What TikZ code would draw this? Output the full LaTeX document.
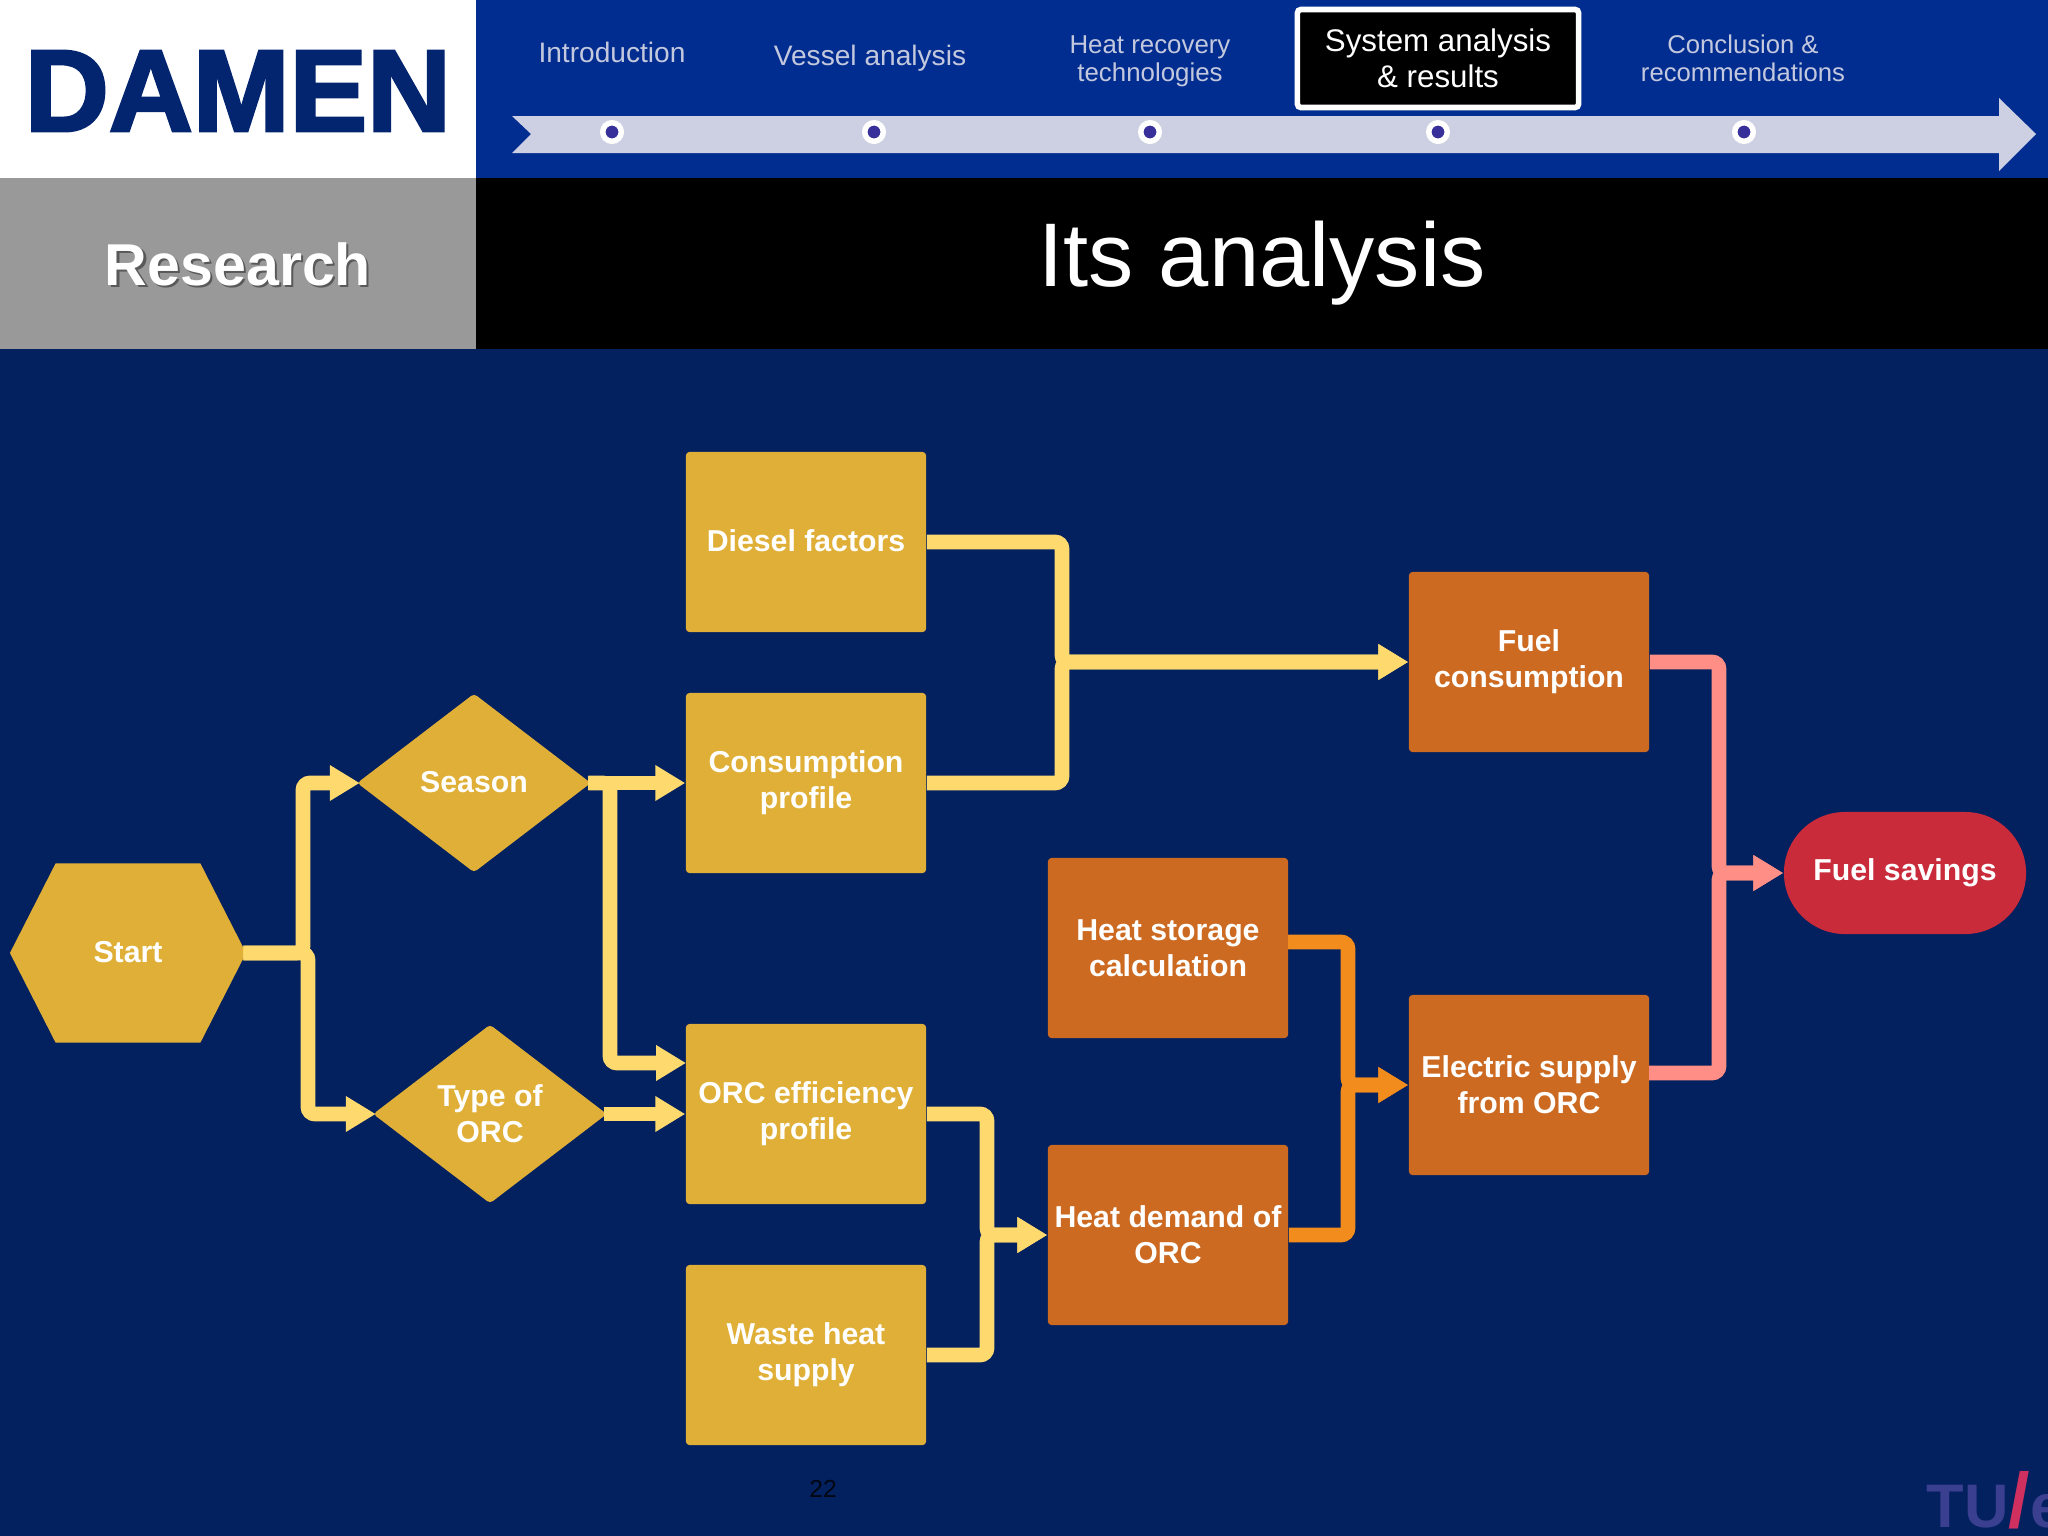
\documentclass[tikz,border=0pt]{standalone}
\usepackage{graphicx}
\usepackage{fontspec}
\setmainfont{Liberation Sans}
\newfontfamily\logofont[FakeBold=2.5]{Liberation Sans Bold}
\usetikzlibrary{arrows.meta,shapes.geometric,shapes.misc,shapes.symbols}
\definecolor{slidebg}{HTML}{03205F}
\definecolor{headblue}{HTML}{002D8F}
\definecolor{logoblue}{HTML}{03246F}
\definecolor{barlilac}{HTML}{CDCFE3}
\definecolor{dotblue}{HTML}{37309B}
\definecolor{navtext}{HTML}{C4C8DE}
\definecolor{gold}{HTML}{E0AF37}
\definecolor{rust}{HTML}{CC6A22}
\definecolor{crimson}{HTML}{C92B3A}
\definecolor{linkyellow}{HTML}{FEDA6E}
\definecolor{linkorange}{HTML}{F28C1C}
\definecolor{linkpink}{HTML}{FF8F86}
\definecolor{tublue}{HTML}{3A3F8F}
\definecolor{tupink}{HTML}{D0305F}
\tikzset{
 flow/.style={text=white,align=center,inner sep=0pt,font=\bfseries\fontsize{8.6}{10.3}\selectfont},
 goldbox/.style={flow,rectangle,fill=gold,rounded corners=1pt,minimum width=2.4cm,minimum height=1.8cm},
 rustbox/.style={goldbox,fill=rust},
 golddiamond/.style={flow,diamond,fill=gold,rounded corners=1pt,aspect=1.3,minimum width=2.34cm,minimum height=1.79cm},
 link/.style={line width=4.2pt,rounded corners=2pt,-{Triangle[length=8.5pt,width=9.6pt]}},
 navitem/.style={text=navtext,align=center,inner sep=0pt},
 navdot/.style={circle,fill=dotblue,draw=white,line width=1.56pt,minimum size=0.185cm,inner sep=0pt}
}
\begin{document}
\begin{tikzpicture}[x=0.01cm,y=-0.01cm]
 \useasboundingbox (0,0) rectangle (2048,1536);
 \fill [slidebg] (0,0) rectangle (2048,1536);
 \fill [headblue] (476,0) rectangle (2048,178);
 \fill [white] (0,0) rectangle (476,178);
 \fill [black!40] (0,178) rectangle (476,349);
 \fill [black] (476,178) rectangle (2048,349);
 \node [text=logoblue,inner sep=0pt] (logo) at (238,91) {\resizebox{4.26cm}{0.8cm}{\logofont DAMEN}};
 \node [text=white,inner sep=0pt,font=\bfseries\fontsize{16.8}{20}\selectfont] (research) at (238,265)
 {\rlap{\kern0.6pt\raisebox{-0.6pt}{\textcolor{black!65}{Research}}}Research};
 \node [text=white,inner sep=0pt,font=\fontsize{25.7}{30}\selectfont] (title) at (1262,263) {Its analysis};

 \fill [barlilac] (512,116) -- (1999,116) -- (1999,98) -- (2036,134) -- (1999,171) -- (1999,153) -- (512,153) -- (531,134) -- cycle;
 \node [navdot] (dota) at (612,132) {};
 \node [navdot] (dotb) at (874,132) {};
 \node [navdot] (dotc) at (1150,132) {};
 \node [navdot] (dotd) at (1438,132) {};
 \node [navdot] (dote) at (1744,132) {};
 \node [navitem,font=\fontsize{8}{9.5}\selectfont] (intro) at (612,52) {Introduction};
 \node [navitem,font=\fontsize{8}{9.5}\selectfont] (vessel) at (870,58.5) {Vessel analysis};
 \node [navitem,font=\fontsize{7.35}{7.8}\selectfont] (recovery) at (1150,61.5) {Heat recovery\\technologies};
 \node [text=white,align=center,inner sep=0pt,fill=black,draw=white,line width=1.6pt,rounded corners=1pt,
 minimum width=2.81cm,minimum height=0.98cm,font=\fontsize{8.9}{10.4}\selectfont] (system) at (1438,58.5) {System analysis\\\& results};
 \node [navitem,font=\fontsize{7.3}{7.8}\selectfont] (conclusion) at (1743,58.5) {Conclusion \&\\recommendations};

 \node [goldbox] (diesel) at (806,542) {\raisebox{0.7pt}{Diesel factors}};
 \node [goldbox] (profile) at (806,783) {Consumption\\profile};
 \node [goldbox] (orceff) at (806,1114) {ORC efficiency\\profile};
 \node [goldbox] (waste) at (806,1355) {Waste heat\\supply};
 \node [rustbox] (storage) at (1168,948) {Heat storage\\calculation};
 \node [rustbox] (demand) at (1168,1235) {Heat demand of\\ORC};
 \node [rustbox] (fuel) at (1529,662) {Fuel\\consumption};
 \node [rustbox] (electric) at (1529,1085) {Electric supply\\from ORC};
 \node [flow,rounded rectangle,fill=crimson,minimum width=2.42cm,minimum height=1.22cm] (savings) at (1905,873) {\raisebox{0.4pt}{Fuel savings}};
 \node [flow,signal,signal to=east and west,signal pointer angle=126,fill=gold,minimum width=2.36cm,minimum height=1.79cm] (start) at (128,953) {\raisebox{0.7pt}{Start}};
 \node [golddiamond] (season) at (474,783) {\raisebox{0.7pt}{Season}};
 \node [golddiamond] (type) at (490,1114) {Type of\\ORC};

 \coordinate (startup) at (303,783);
 \coordinate (startdown) at (308,1114);
 \coordinate (seasonbus) at (610,1063);
 \coordinate (orcin) at (686,1063);
 \coordinate (fuelbus) at (1062,662);
 \coordinate (demandbus) at (987,1235);
 \coordinate (electricbus) at (1348,1085);
 \coordinate (savingsbus) at (1719,873);
 \coordinate (electricout) at (1649,1073);
 \coordinate (storageout) at (1288,942);

 \draw [link,linkyellow] ([xshift=-1pt]start.east) -| (startup) -- ([xshift=1pt]season.west);
 \draw [link,linkyellow] ([xshift=-1pt]start.east) -| (startdown) -- ([xshift=1pt]type.west);
 \draw [link,linkyellow] ([xshift=-1pt]season.east) -- (profile.west);
 \draw [link,linkyellow] ([xshift=-1pt]season.east) -| (seasonbus) -- (orcin);
 \draw [link,linkyellow] ([xshift=-1pt]type.east) -- (orceff.west);
 \draw [link,linkyellow] (diesel.east) -| (fuelbus) -- (fuel.west);
 \draw [link,linkyellow] (profile.east) -| (fuelbus) -- (fuel.west);
 \draw [link,linkyellow] (orceff.east) -| (demandbus) -- (demand.west);
 \draw [link,linkyellow] (waste.east) -| (demandbus) -- (demand.west);
 \draw [link,linkorange] (storageout) -| (electricbus) -- (electric.west);
 \draw [link,linkorange] (demand.east) -| (electricbus) -- (electric.west);
 \draw [link,linkpink] (fuel.east) -| (savingsbus) -- (savings.west);
 \draw [link,linkpink] (electricout) -| (savingsbus) -- (savings.west);

 \node [text=black!80!slidebg,inner sep=0pt,font=\fontsize{7}{8}\selectfont] (pagenum) at (823,1489) {22};
 \node [anchor=base west,inner sep=0pt,text=tublue,font=\bfseries\fontsize{17.5}{20}\selectfont] (tue) at (1926,1527)
 {TU{\fontsize{22}{22}\selectfont\textcolor{tupink}{/}}e};
\end{tikzpicture}
\end{document}
